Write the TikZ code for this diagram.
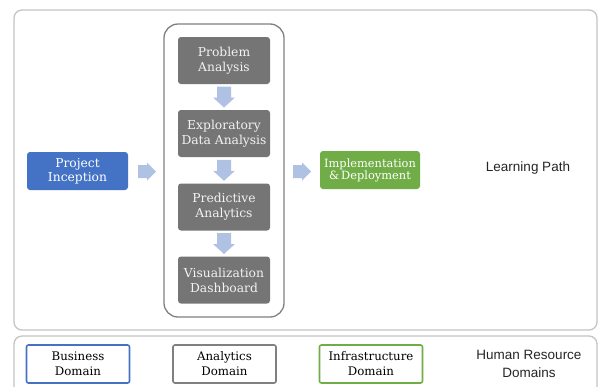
\documentclass[tikz,border=0pt]{standalone}
\usepackage{fontspec}
\setmainfont{DejaVu Serif}
\newfontfamily\labelfont{Liberation Sans}
\usetikzlibrary{calc}
\definecolor{cblue}{HTML}{4472C4}
\definecolor{cgreen}{HTML}{70AD47}
\definecolor{cgray}{HTML}{757575}
\definecolor{carrow}{HTML}{B0C2E4}
\definecolor{cframe}{HTML}{C4C4C4}
\definecolor{cinner}{HTML}{808080}
\tikzset{
  stepbox/.style={rectangle, rounded corners=3pt, minimum width=92pt, minimum height=47pt, fill=cgray, text=white!95!black, align=center, font=\fontsize{12.3}{15}\selectfont, inner sep=0pt},
  phasebox/.style={rectangle, rounded corners=3pt, minimum width=101pt, minimum height=38pt, text=white, align=center, font=\fontsize{12.3}{14}\selectfont, inner sep=0pt},
  domainbox/.style={rectangle, rounded corners=2pt, minimum width=103pt, minimum height=38pt, line width=1.6pt, fill=white, align=center, font=\fontsize{11.8}{15}\selectfont, inner sep=0pt},
  sidelabel/.style={align=center, font=\labelfont\fontsize{13.5}{18}\selectfont, text=black!85},
  blockarrow/.style={fill=carrow, draw=none},
  pics/downarr/.style={code={\fill[blockarrow] (-7,-10.5) -- (7,-10.5) -- (7,0.5) -- (11,0.5) -- (0,10.5) -- (-11,0.5) -- (-7,0.5) -- cycle;}},
  pics/rightarr/.style={code={\fill[blockarrow] (-9,-6.5) -- (0,-6.5) -- (0,-9) -- (9,0) -- (0,9) -- (0,6.5) -- (-9,6.5) -- cycle;}},
}
\begin{document}
\begin{tikzpicture}[x=1pt,y=-1pt]
\useasboundingbox (0,0) rectangle (601,386);
\clip (0,0) rectangle (601,386);
\fill[white] (0,0) rectangle (601,386);
\draw[cframe, line width=1.3pt, rounded corners=8pt] (14,10) rectangle (597,330);
\draw[cframe, line width=1.3pt, rounded corners=8pt] (14,336) rectangle (597,400);
\draw[cinner, line width=1.3pt, rounded corners=14pt] (164,24) rectangle (284,317);

\node[stepbox] (pa) at (224,60.5) {Problem\\Analysis};
\node[stepbox] (eda) at (224,133.5) {Exploratory\\Data Analysis};
\node[stepbox] (pred) at (224,207) {Predictive\\Analytics};
\node[stepbox] (viz) at (224,280) {Visualization\\Dashboard};

\node[phasebox, fill=cblue] (pi) at (77.5,171) {Project\\Inception};
\node[phasebox, fill=cgreen, minimum width=100pt, font=\fontsize{11.4}{12}\selectfont] (impl) at (370,170) {Implementation\\\&\,Deployment};
\node[sidelabel] (lp) at (528,168) {Learning Path};

\coordinate (a1) at ($(pa.south)!0.5!(eda.north)$);
\coordinate (a2) at ($(eda.south)!0.5!(pred.north)$);
\coordinate (a3) at ($(pred.south)!0.5!(viz.north)$);
\coordinate (a4) at (147,171.5);
\coordinate (a5) at (302,171.5);
\pic at (a1) {downarr};
\pic at (a2) {downarr};
\pic at (a3) {downarr};
\pic at (a4) {rightarr};
\pic at (a5) {rightarr};

\node[domainbox, draw=cblue] (bd) at (78,364) {Business\\Domain};
\node[domainbox, draw=cinner] (ad) at (224.5,364) {Analytics\\Domain};
\node[domainbox, draw=cgreen] (id) at (371,364) {Infrastructure\\Domain};
\node[sidelabel] (hr) at (529,364) {Human Resource\\Domains};
\end{tikzpicture}
\end{document}
